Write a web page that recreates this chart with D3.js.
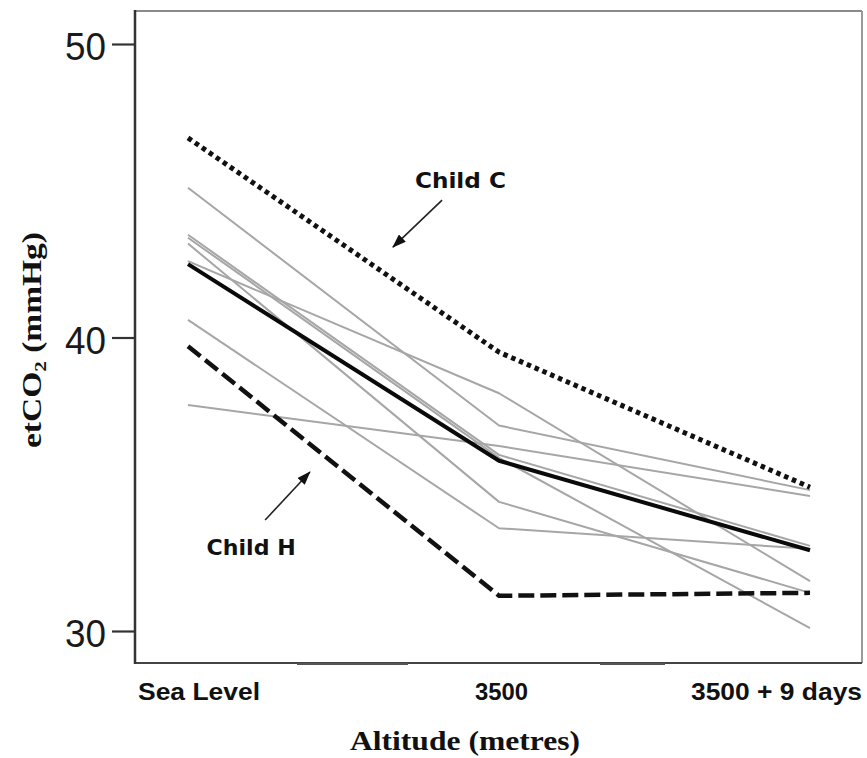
<!DOCTYPE html>
<html><head><meta charset="utf-8">
<script src="https://cdn.jsdelivr.net/npm/d3@7"></script>
<style>body{margin:0;background:#fff}</style>
</head><body><svg id="c" width="867" height="758"></svg>
<script>
// ---- data ----
const categories = ["Sea Level", "3500", "3500 + 9 days"];
const yTicks = [30, 40, 50];
const grayChildren = [
  [45.1, 37.0, 34.8],
  [42.6, 38.1, 31.7],
  [43.5, 36.0, 32.9],
  [43.4, 35.9, 30.1],
  [43.2, 34.4, 31.3],
  [40.6, 33.5, 32.8],
  [37.7, 36.3, 34.6]
];
const meanValues = [42.5, 35.8, 32.75];
const childC = [46.8, 39.5, 34.9];
const childH = [39.7, 31.2, 31.3];
// annotations in data units (x as category index)
const annotations = [
  {label: "Child C", tx: 0.876, ty: 45.09, from: [0.817, 44.68], to: [0.659, 43.08], len: 91},
  {label: "Child H", tx: 0.203, ty: 32.59, from: [0.248, 33.78], to: [0.392, 35.42], len: 89}
];

// ---- layout ----
const svg = d3.select("#c");
const frame = {l: 135, t: 11, r: 862, b: 663};
const x = d3.scalePoint().domain(categories).range([188, 810]);
const xi = d3.scaleLinear().domain([0, categories.length - 1]).range([188, 810]);
const y = d3.scaleLinear().domain([30, 50]).range([631, 44]);

svg.append("defs").append("marker")
  .attr("id", "ah").attr("markerUnits", "userSpaceOnUse")
  .attr("viewBox", "0 0 14 10").attr("refX", 13).attr("refY", 5)
  .attr("markerWidth", 14).attr("markerHeight", 10).attr("orient", "auto")
  .append("path").attr("d", "M0,0 L14,5 L0,10 Z").attr("fill", "#111");

// frame
svg.append("line").attr("x1", frame.l).attr("x2", frame.r).attr("y1", frame.t).attr("y2", frame.t)
  .attr("stroke", "#8a8a8a").attr("stroke-width", 2);
svg.append("line").attr("x1", frame.r).attr("x2", frame.r).attr("y1", frame.t).attr("y2", frame.b)
  .attr("stroke", "#9a9a9a").attr("stroke-width", 2);
svg.append("line").attr("x1", frame.l).attr("x2", frame.r).attr("y1", frame.b).attr("y2", frame.b)
  .attr("stroke", "#444").attr("stroke-width", 2);
[[297, 408], [600, 665]].forEach(s => svg.append("line")
  .attr("x1", s[0]).attr("x2", s[1]).attr("y1", frame.b + 1).attr("y2", frame.b + 1)
  .attr("stroke", "#555").attr("stroke-width", 2));

// y axis
const yAxis = svg.append("g").attr("transform", `translate(${frame.l},0)`)
  .call(d3.axisLeft(y).tickValues(yTicks).tickSize(23).tickPadding(6).tickFormat(d3.format("d")));
yAxis.select(".domain").remove();
svg.append("line").attr("x1", frame.l).attr("x2", frame.l).attr("y1", frame.t - 1).attr("y2", frame.b + 1)
  .attr("stroke", "#333").attr("stroke-width", 2.5);
yAxis.selectAll(".tick line").attr("stroke", "#333").attr("stroke-width", 2.2);
yAxis.selectAll(".tick text")
  .attr("font-family", "'Liberation Sans', Arial, sans-serif")
  .attr("font-size", 38).attr("fill", "#1a1a1a")
  .attr("dy", "0.42em").attr("textLength", 41).attr("lengthAdjust", "spacingAndGlyphs");

// x labels
const xLab = [
  {anchor: "start", dx: -50, len: 122},
  {anchor: "middle", dx: 2.5, len: 53},
  {anchor: "end", dx: 52, len: 171}
];
svg.append("g").selectAll("text").data(categories).join("text")
  .attr("x", (d, i) => x(d) + xLab[i].dx).attr("y", 700)
  .attr("text-anchor", (d, i) => xLab[i].anchor)
  .attr("font-family", "'Liberation Sans Narrow', 'Arial Narrow', 'Liberation Sans', sans-serif")
  .attr("font-weight", "bold").attr("font-size", 24).attr("fill", "#111")
  .attr("textLength", (d, i) => xLab[i].len).attr("lengthAdjust", "spacingAndGlyphs")
  .text(d => d);

// axis titles
svg.append("text").attr("x", 465).attr("y", 750).attr("text-anchor", "middle")
  .attr("font-family", "'Liberation Serif', 'Times New Roman', serif")
  .attr("font-weight", "bold").attr("font-size", 27).attr("fill", "#111")
  .attr("textLength", 230).attr("lengthAdjust", "spacingAndGlyphs")
  .text("Altitude (metres)");

const yt = svg.append("text").attr("transform", "translate(41,340) rotate(-90)")
  .attr("text-anchor", "middle")
  .attr("font-family", "'Liberation Serif', 'Times New Roman', serif")
  .attr("font-weight", "bold").attr("font-size", 27).attr("fill", "#111")
  .attr("textLength", 216).attr("lengthAdjust", "spacingAndGlyphs");
yt.append("tspan").text("etCO");
yt.append("tspan").attr("font-size", 17).attr("dy", 5).text("2");
yt.append("tspan").attr("dy", -5).text(" (mmHg)");

// lines
const line = d3.line().x((d, i) => x(categories[i])).y(d => y(d));
svg.append("g").selectAll("path").data(grayChildren).join("path")
  .attr("d", line).attr("fill", "none").attr("stroke", "#a6a6a6").attr("stroke-width", 2)
  .attr("stroke-linejoin", "round");
svg.append("path").datum(childH).attr("d", line).attr("fill", "none")
  .attr("stroke", "#111").attr("stroke-width", 4.5).attr("stroke-dasharray", "16,6");
svg.append("path").datum(childC).attr("d", line).attr("fill", "none")
  .attr("stroke", "#111").attr("stroke-width", 5).attr("stroke-dasharray", "4.5,4");
svg.append("path").datum(meanValues).attr("d", line).attr("fill", "none")
  .attr("stroke", "#0a0a0a").attr("stroke-width", 4).attr("stroke-linejoin", "round");

// annotations
annotations.forEach(a => {
  svg.append("line")
    .attr("x1", xi(a.from[0])).attr("y1", y(a.from[1]))
    .attr("x2", xi(a.to[0])).attr("y2", y(a.to[1]))
    .attr("stroke", "#222").attr("stroke-width", 1.6).attr("marker-end", "url(#ah)");
  svg.append("text").attr("x", xi(a.tx)).attr("y", y(a.ty)).attr("text-anchor", "middle")
    .attr("font-family", "'DejaVu Sans', Verdana, sans-serif")
    .attr("font-weight", "bold").attr("font-size", 22).attr("fill", "#111")
    .attr("textLength", a.len).attr("lengthAdjust", "spacingAndGlyphs")
    .text(a.label);
});
</script></body></html>
